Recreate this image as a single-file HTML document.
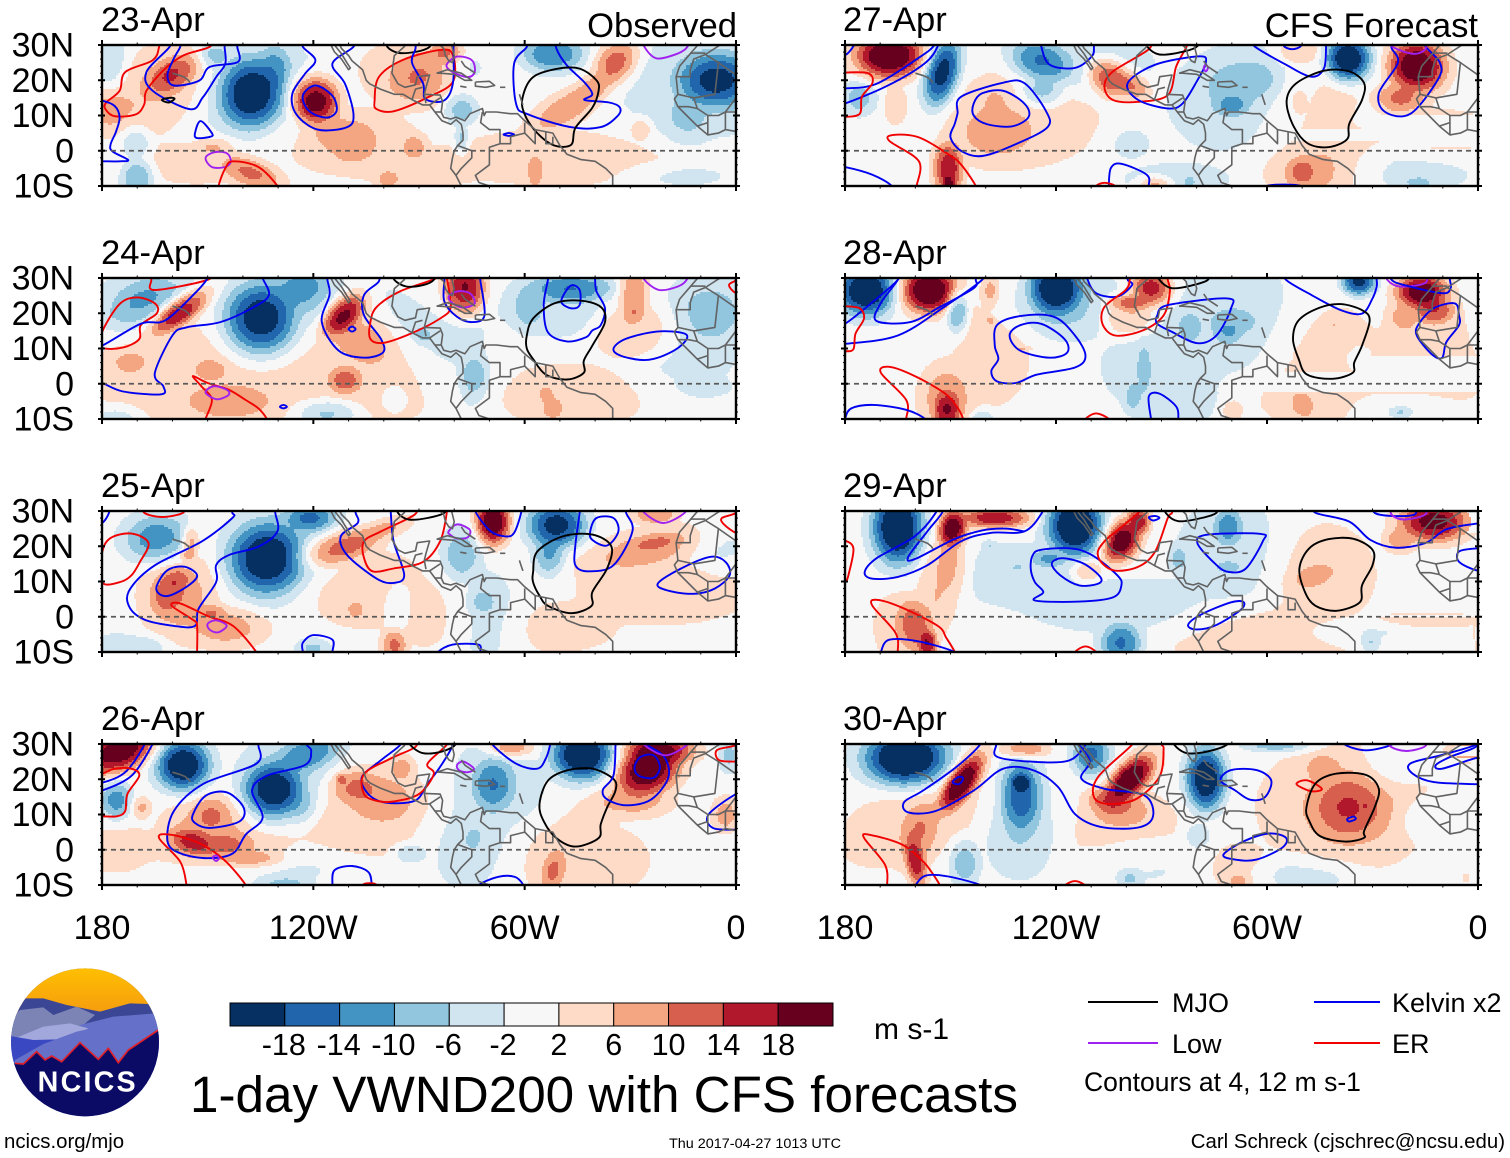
<!DOCTYPE html>
<html>
<head>
<meta charset="utf-8">
<title>1-day VWND200 with CFS forecasts</title>
<style>
html,body{margin:0;padding:0;background:#fff;}
svg{display:block;}
text{font-family:"Liberation Sans",sans-serif;fill:#000;}
</style>
</head>
<body>
<svg id="chart" xmlns="http://www.w3.org/2000/svg" width="1510" height="1158" viewBox="0 0 1510 1158">
<rect width="1510" height="1158" fill="#fff"/>
<g id="panels"></g>
<text x="737" y="37" font-size="34.6" text-anchor="end">Observed</text>
<text x="1478" y="37" font-size="34.6" text-anchor="end">CFS Forecast</text>
<g id="colorbar"></g>
<text x="874" y="1039" font-size="30">m s-1</text>
<text x="190" y="1112" font-size="51" textLength="828" lengthAdjust="spacingAndGlyphs">1-day VWND200 with CFS forecasts</text>
<text x="669" y="1148" font-size="14" textLength="172" lengthAdjust="spacingAndGlyphs">Thu 2017-04-27 1013 UTC</text>
<text x="4" y="1148" font-size="20.4">ncics.org/mjo</text>
<text x="1505" y="1148" font-size="20.4" text-anchor="end">Carl Schreck (cjschrec@ncsu.edu)</text>
<g>
<line x1="1088" y1="1002" x2="1158" y2="1002" stroke="#000" stroke-width="2"/>
<text x="1172" y="1012" font-size="27">MJO</text>
<line x1="1314" y1="1002" x2="1380" y2="1002" stroke="#0000f0" stroke-width="2"/>
<text x="1392" y="1012" font-size="27">Kelvin x2</text>
<line x1="1088" y1="1043" x2="1158" y2="1043" stroke="#a020f0" stroke-width="2"/>
<text x="1172" y="1053" font-size="27">Low</text>
<line x1="1314" y1="1043" x2="1380" y2="1043" stroke="#f00000" stroke-width="2"/>
<text x="1392" y="1053" font-size="27">ER</text>
<text x="1084" y="1091" font-size="26.5">Contours at 4, 12 m s-1</text>
</g>
<g transform="translate(0,960) scale(0.33333)">
<defs>
<clipPath id="logoClip"><circle cx="255" cy="247" r="222"/></clipPath>
<linearGradient id="sunGrad" x1="0" y1="0" x2="0" y2="1"><stop offset="0" stop-color="#ffc000"/><stop offset="1" stop-color="#f59a10"/></linearGradient>
</defs>
<g clip-path="url(#logoClip)">
<rect x="30" y="20" width="450" height="460" fill="#6570c8"/>
<rect x="30" y="20" width="450" height="150" fill="url(#sunGrad)"/>
<polygon points="30,170 70,115 130,115 200,135 300,155 390,130 445,132 490,200 490,260 30,260" fill="#3b4694"/>
<polygon points="30,180 60,150 130,142 160,165 230,140 285,165 250,195 30,240" fill="#7c84b6"/>
<polygon points="240,195 340,170 465,160 490,200 490,280 240,280" fill="#6570c8"/>
<polygon points="45,235 130,200 210,190 265,205 205,235 100,245" fill="#a2a7dc"/>
<polygon points="30,228 100,240 175,238 60,300 30,310" fill="#3a48c2"/>
<polygon points="45,300 130,252 230,215 300,200 470,170 480,210 370,280 45,315" fill="#6570c8"/>
<polygon points="20,310 45,310 70,312 110,275 135,300 155,288 185,305 240,248 295,298 325,265 355,308 385,270 475,210 490,200 490,480 20,480" fill="#0b0b66"/>
<polyline points="45,310 70,312 110,275 135,300 155,288 185,305 240,248 295,298 325,265 355,308 385,270 475,210" fill="none" stroke="#e0202a" stroke-width="5"/>
<text x="113" y="395" font-size="86" font-weight="bold" textLength="294" style="fill:#fff">NCICS</text>
</g>
</g>
</svg>
<script>
const panelDates = ['23-Apr','24-Apr','25-Apr','26-Apr','27-Apr','28-Apr','29-Apr','30-Apr'];
const lonMajorTicks = [180,120,60,0];
const lonMajorLabels = ['180','120W','60W','0'];
const latMajorTicks = [30,20,10,0,-10];
const latMajorLabels = ['30N','20N','10N','0','10S'];
const bandEdges = [-18,-14,-10,-6,-2,2,6,10,14,18];
const bandColors = ['#053061','#2166ac','#4393c3','#92c5de','#d1e5f0','#f7f7f7','#fddbc7','#f4a582','#d6604d','#b2182b','#67001f'];

/* anomaly centres: [lon W, lat, peak m/s, lon radius, lat radius, tilt] */
const blobs23Apr = [[115,3,5,22,9,0],[50,-2,4.5,30,7,0],[150,-3,4.5,18,6,0],[90,-5,4,15,5,0],[90,22,5,16,9,0],[10,18,-5,20,14,0],[165,17,6,16,11,-30],[135,15,-5,16,16,0],
[137.5,16,-23,12,13,0],[131,23,-12,6,8,0],[119.6,14,23,8.5,8.5,0],[116,6,8,8,7,0],[160,21.4,15,10,6,-30],[178,12,8,8,7,0],[178,25,-7,5,8,0],[148,27,-9,5,4,0],
[138,-6,12,11,5,20],[148,1,8,6,3,0],[170,-7.5,-11,5,6,0],[170.4,2,-7,4,5,0],[109,2.6,9,9,8,0],[91.5,1,9,4,4,0],[98.7,-8,8,4,3,0],
[90,21,10,11,8,-20],[82,27.6,12,6,4,0],[52,27.6,-14,10,6,0],[76,23,-5,6,6,0],[78,12,-9,5,5,0],[78,3.6,-8,2,4,0],
[48,12,9,13,5,-30],[40,18,9,10,4,-35],[34,25,13,8,6,-45],[5.5,20,-20,14,10,0],[14,9,-7,8,8,0],[16,-7,-4,12,3,0],[57,-6,8,3,6,0],[27,6,7,3,3,0]];
const blobs24Apr = [[145,2,4.5,35,14,0],[100,0,4,25,10,0],[45,-3,4,22,8,0],[125,25,-9,14,9,0],[165,26,-6,15,5,0],[80,8,-4,10,12,0],[15,12,-4.5,14,14,0],
[135,18,-23,13,13,0],[123.6,27,-12,9,6,-20],[169,23,-11,13,7,-25],[158,20.4,19,12,4.5,-35],[111.6,19.4,21,9,5.5,-45],[107,12,9,12,7,30],
[77,27,19,7,9,0],[88,15,-5,14,4,45],[89,13.7,-8,4,3,30],[74.5,2.2,-11,5,7.5,0],[47,27,-14,14,5,0],[59,22,-9,5,7,0],[50,22,-5,16,8,0],
[29,25,11,5,9,0],[29,20,10,4,3,0],[28,15,8,12,9,0],[7.5,20,-8,12,10,0],[144,-5,9,15,6,0],[149,4,8,6,4,0],[111,1,12,6,5,0],[172,6,8,6,4,0],
[116,-8.4,-9,9,4,0],[176,-10,-6,6,3,0],[52,-7,8,4,4,0],[54,-3,7,3,3,0],[97,-4,-5,3,3,0],[76,-4,-4,5,6,0],[10,-1,-4,8,3,0]];
const blobs25Apr = [[105,8,4,15,10,0],[50,-3,3.5,14,6,0],[125,22,-7,14,10,0],[175,-8,-4,6,3,0],[85,0,4,12,8,0],[72,0,-5,9,12,0],[20,8,4.5,22,9,0],
[158,6,8,11,13,0],[164,22,-13,11,8,0],[155,21,12,3,5,0],[156,17.5,11,3,2,0],[161,7,13,6,8,20],[158.5,11,11,5,4,0],
[145,-3,8,12,6,0],[149,1,10,5,3,0],[133,16.5,-23,14,13,0],[121,28,-15,9,5,0],[113,19.5,15,13,5.5,-15],[102,24,8,10,3,-20],[69,27,23,6,8,0],
[78,17.5,-9,6,8,0],[51,26,-20,10,8,0],[53,18,-11,5,7,0],[72,4,-9,5,5,0],[96,3,-5,3,5,0],[108,2,8,3,3,0],[97,-8,11,4,5,0],[168,-8.5,-6,6,3,0],[120,-9,-7,5,3,0],
[25,19,8,20,6,-12],[23,21,10,10,3,-10],[23,29,10,7,3,0],[5,20,-4,7,6,0],[51,-4,4,5,5,0]];
const blobs26Apr = [[125,22,-7,15,10,0],[150,5,8,13,10,0],[145,0,6,20,6,0],[105,10,5,18,13,0],[75,2,-4.5,12,12,0],[68,18,-6,12,12,0],[175,0,3.5,10,6,0],[130,-5,-3.5,20,4,0],
[175,28,22,13,7,-20],[157,24,-23,9.5,9,0],[176,14,-12,5,6,0],[131,17,-23,11,10,0],[121.6,27,-14,12,6,-20],[124,13,-10,6,6,0],
[102,15,9,14,8,15],[109,18,12,9,6,0],[112,20,15,2,2,0],[64,29,11,7,3,0],[95,23,8,4,4,0],[69,18.5,-14,7,9,0],[43.5,27,-24,11,9,0],
[29,14,8,11,5,0],[25,23,23,12,9,-30],[22,28,20,12,5,0],[149,10,10,7,6,0],[154,2,16,9,5,15],[144,1,11,9,5,0],[138,-2.5,11,11,3,0],[169,12,7,3,3,0],
[74.5,3,-6,6,7,0],[92.5,-1,-7,5,3,0],[128,-10,-8,8,3,0],[75,-10,-6,3,4,0],[45,-3,5,18,10,0],[52,-6,11,4,7,15],[40,10,5,17,5,-40],[3,10,8,4,5,0],[2,27,-7,3,5,0]];
const blobs27Apr = [[130,10,5,20,13,0],[66,14,-5,20,14,0],[48,12,5,14,10,-20],[45,-2,5,16,10,0],[115,25,-6,20,8,0],[85,-8,-4,14,4,0],[12,5,4,15,6,0],
[167.4,27,24,12,8,0],[152.4,22,-21,6,12,15],[176,15,-8,5,5,0],[165.6,13,6,3,5,0],[124,25,-16,11,7,20],[124,17,-11,7,5,0],[105,21,17,8,6,30],[99,19,12,7,4,30],
[137,5,8,13,9,0],[137.4,15,6,5,8,0],[150.6,-5,17,5,9,0],[150.6,-10,22,2.5,4,0],[91.8,-10,10,5,3,0],[70,13,-12,6,4,0],[68,18,-8,12,10,0],[62,20,-8,7,6,0],
[37,26,-24,8,8,0],[17.4,24,23,10,9,10],[22,15,11,8,5,0],[47,-6,8,13,8,0],[50,-6,12,5,5,0],[51,14,7,2.5,4,0],[51,28,7,6,4,0],[20,-6,-4,16,5,0],[17,-9,-8,5,2,0],[82,-9,-6,3,4,0],[99,2,-4,5,4,0]];
const blobs28Apr = [[138,12,5,10,16,0],[68,18,-5,20,14,0],[45,10,5,14,14,0],[18,2,4.5,17,12,0],[48,-3,4.5,14,8,0],[118,22,-7,20,9,0],[15,15,4,10,10,0],[90,5,-4.5,15,12,0],[85,-5,-4,10,6,0],
[174,26.5,-24,10,9,0],[156,26.5,24,10,8,0],[148,20.5,-12,3.5,7,0],[120,27,-24,10,10,0],[93,27,17,7,6,0],[99,23,15,8,3,0],[100,19.5,9,8,6,0],[138.6,18,10,1.5,1.5,0],[138.6,26,9,3,5,0],
[151,-4,9,8,10,0],[151,-7.5,18,5,7,0],[71,14.5,-10,5,4,0],[69,17.5,-8,9,5,0],[82,16,-9,4,5,0],[95,4,-8,2.5,9,0],[98,-3.6,-8,3,5,0],[34,29,-20,6,5,0],
[16,26,22,9,6,0],[12.5,21,14,7,5,0],[21,19,8,5,5,0],[41,16.5,7,2,1,0],[49,9.5,7,3,1.5,-15],[50,-6,8,4,5,-30],[56,-2,6,2,3,0],[20,-7,-4,10,4,0],[22,-8,-9,4,2,0],[141,-9.5,-7,3,2,0],[70,-7.5,5,3,3,0],[130,10,7,3,0.8,0],[34,7,-5,3,3,0]];
const blobs29Apr = [[100,3,-4,25,7,0],[70,18,-5,14,14,0],[130,12,-4,17,8,0],[45,12,5,14,13,0],[60,-5,4.5,22,8,0],[15,-1,4,15,2,0],[165,-3,5,6,9,0],[60,-8,4.5,25,5,0],
[165,25.5,-25,9,13,0],[149.4,25,22,5,7,15],[137.4,28,17,12,3.5,0],[150,15,8,5,10,0],[153,9,7,6,14,10],[160.2,-2.6,13,6,9,-10],[156.6,-7.5,18,3.5,5,0],
[114.6,26,-25,10,11,0],[122,16.5,-11,6,3,0],[101.4,21.5,22,6,8,35],[96.6,27,17,4,5,0],[111,13,8,4,3,0],[71,25.5,-13,5,6,0],[85,16.5,-8,3,4,0],[71,14,-9,4,2,0],
[101.4,-7.5,-15,7,7,0],[30.6,-7.5,-8,3,3,0],[35,-5,-4,12,3,0],[47.4,11.5,8,8,4,-15],[12.6,27,20,12,7,0],[22,22,9,5,4,0],[0,-5,8,1,8,0],[139,20,-6,2,1.5,0],[131,14,-7,2,1,0]];
const blobs30Apr = [[95,-4,-4,12,6,0],[38,12,5,22,17,0],[50,-7,-4.5,12,4,0],[68,-5,4,8,6,0],[160,8,5,20,10,-20],[130,5,-6,10,12,0],[100,5,4,15,10,0],
[162.6,26,-26,15,10,0],[147,19,24,5,12,35],[129,28.4,11,7,3,0],[130,15,-17,7.5,13,0],[130,19,-22,4,4,0],[110,27,-15,6,7,0],[101.4,11,9,10,6,0],[104,14,14,8,5,0],[99,20,23,5.5,11,45],
[77.4,20,-23,7,11,0],[57,29.5,-9,10,2,0],[159,5,10,6,11,15],[160,-3,17,3.5,9,-10],[146,-3.5,-9,4.5,7,0],[99,-8,-8,4,3,0],[36,12,9,17,13,0],[37,12,13,12,11,0],[32,12.3,16,1,1,0],
[44,23,9,6,5,0],[15,9,-4,6,4,0],[47,-8.5,-7,8,2.5,0],[68,-9,8,4,3,0],[1,-8,8,3,2,0],[3,28,10,6,3,0],[24.5,24,-4,6,5,0],[80,4,-5,4,4,0]];

/* contours: [series, closed, [[lon W, lat], ...]] */
const contours23Apr = [
['e',0,[[163.8,29.5],[165.6,25.7],[173.4,22.3],[175,17],[178.8,13.7],[179,11.8],[176.4,9.8],[170.4,10.3],[168,13.2],[167.4,17],[162.6,22.8],[157,27],[149.4,29.5]]],
['k',0,[[160.8,29.5],[167.4,22.3],[165.6,17],[155,11.8],[151.4,15.1],[147.6,20.9],[145,24.7],[145.2,29.5]]],
['k',0,[[157.8,29.5],[159.6,26.2],[161.4,21.4],[159.6,18.5],[152.4,19.9],[149.4,23.8],[141.4,25.2],[141.6,29.5]]],
['m',1,[[163,14.4],[161,15],[159.4,14.8],[161,13.7]]],
['k',0,[[180,14.2],[176.4,12.7],[175,9.4],[176,5.5],[177.6,1.7],[177,-0.2],[172.6,-2.6],[175,-3],[180,-3]]],
['k',1,[[153.6,5],[152,8.4],[148.8,5],[149.2,4],[153,3.6]]],
['l',1,[[150.6,-2],[148,-0.4],[144.6,-0.7],[143.4,-3],[145,-4.6],[148.8,-4.6]]],
['e',0,[[147,-10.2],[145,-5],[142.8,-3],[135.6,-4.6],[130,-10.2]]],
['e',1,[[102.6,14.2],[101.4,20.9],[94.8,25.7],[84,28.6],[80.4,27.2],[80.4,19.5],[87.6,15.1],[97.2,11.2],[102,11.8]]],
['k',0,[[123,29.5],[119.4,25.7],[122.4,21.8],[126,16],[124.8,10.3],[118.8,6],[110.4,6.7],[108.6,10.3],[111,19],[114.6,24.7],[108.6,29.5]]],
['k',1,[[123,15.6],[119.4,18.5],[114.6,15.6],[113.4,11.3],[116.4,9.4],[121.2,11.3]]],
['m',0,[[99,29.5],[96,27.8],[91.2,28],[87,29.5]]],
['k',0,[[91,29],[92,25],[88.8,19],[88.2,14.7],[83,14.2],[80.4,19],[80.2,29.5]]],
['l',1,[[82.2,24.3],[79.2,26.7],[75,25.7],[74.2,22.3],[76.2,20.9],[80.4,22.3]]],
['k',0,[[59.4,29.5],[63,24.7],[62.4,13.2],[59,10.3],[47,6.7],[38.4,6.7],[33.6,9.9],[33,12.3],[36,13.7],[43,14.4],[40.8,16],[43,19.4],[48,24.2],[51,29]]],
['m',1,[[60.6,15.1],[57.6,20.9],[50.4,23.3],[44.4,23.3],[39.6,20],[39,17],[40.8,12.2],[45.6,6.5],[46.8,1.7],[51.6,1.5],[56.4,5],[60,10.3]]],
['k',1,[[66,4.6],[64.5,5],[63,4.6],[64.5,4.2]]],
['l',0,[[26,29.5],[22.5,26.2],[16.5,27.6],[13.8,29.5]]]];
const contours24Apr = [
['e',1,[[180,14.6],[175,22.6],[170,24.5],[165,22.8],[164.4,20],[169,16.6],[169.4,12.7],[174,10.3],[180,10.3]]],
['e',0,[[166,29.5],[165,26.6],[150,29.5]]],
['k',0,[[180,10.8],[169,17],[162,18],[153.6,25.7],[150,30]]],
['k',0,[[180,0.2],[174,-2.2],[163.2,-3],[162.6,-0.7],[165,3],[160,13.7],[156,16],[146.4,17.5],[136.8,21.8],[132.6,25.2],[134.4,30]]],
['k',1,[[129.5,-6.5],[128.5,-6],[127.5,-6.5],[128.5,-7]]],
['e',0,[[150.6,-10],[148.8,-4.5],[151.8,-0.7],[154.2,2.2],[150,0.2],[144,-1.7],[139.2,-4.6],[135.6,-7],[133.2,-10]]],
['l',1,[[150.6,-2.2],[148.2,-0.7],[144.6,-1.7],[144,-3.1],[147,-4.4],[149.4,-3.6]]],
['k',0,[[116,29.5],[115.4,25.2],[117.6,17.5],[112.8,9.4],[105.6,7.4],[100.2,8.9],[100.8,12.7],[105.6,19.4],[105.6,25.2],[101.4,29]]],
['k',1,[[110,15.5],[109,16.2],[108,15.5],[109,14.8]]],
['e',0,[[85,30],[95.4,26.2],[102,21.8],[103.8,17.5],[103.8,12.7],[100.2,11.6],[92.4,14.2],[84,18.5],[81,21.8],[82,29.5]]],
['m',0,[[97,29.5],[93.6,27.6],[88.8,28],[85.8,29.5]]],
['k',0,[[82.8,29.5],[82.8,23.3],[79.2,19],[75,17.5],[71.4,19.4],[72.6,29.5]]],
['l',1,[[81.6,24.7],[79.2,26.2],[75.6,25.7],[74.2,22.8],[77.4,21.6],[80.4,22.8]]],
['k',0,[[53.4,29.5],[54.6,22.3],[53.4,14.6],[48,12],[42.6,13.2],[40.8,15.1],[38.4,16.6],[37.2,21.4],[39.6,26.2],[40,29.5]]],
['k',1,[[49.2,24.7],[46.8,27.9],[44.4,26.6],[44.4,22.3],[46.8,21.4],[49.4,22.8]]],
['m',1,[[59.4,13.7],[57.6,18.5],[51.6,22.8],[44.4,23.6],[38.4,21.8],[37.2,17.5],[40.8,10.8],[43.2,6.5],[43.2,3.1],[48,1.2],[54,2.6],[57.6,7],[59.4,10]]],
['k',1,[[34.8,9.8],[31.4,12.7],[22.5,14.8],[15.2,14.4],[14,12.7],[17.6,9.4],[24.8,6.8],[32,7.7]]],
['l',0,[[26,29.5],[21.8,26.6],[16.5,27.6],[14,29.5]]],
['e',0,[[0,29.5],[2,28],[0,25.7]]]];
const contours25Apr = [
['e',1,[[180,18],[177.6,22.3],[171.6,23.6],[166.8,20.9],[169.2,15.6],[171.6,11.8],[175,9.8],[180,9.8]]],
['e',0,[[168,29.5],[163,28.3],[157,29.5]]],
['k',0,[[180,26.6],[178,29.5]]],
['k',0,[[143,29.5],[143,28],[151.6,21.4],[165,14.6],[172,7.9],[172.4,3.1],[168.2,-0.7],[159.6,-2.6],[153.6,-2.6],[152.6,2.2],[147.6,9.8],[147.6,14.6],[144,17.5],[135.6,19.9],[130.2,24.2],[130.8,29.5]]],
['k',1,[[164.4,8.9],[161.4,13.2],[156.6,14.2],[153,11.8],[155.4,8.9],[160.8,6],[163.8,6.5]]],
['e',0,[[153,-10],[153,-2.6],[154,-1],[160.2,3.1],[157.8,3.8],[150,0.2],[142.8,-2.6],[136.2,-10]]],
['l',1,[[150,-2],[147.6,-1],[144.6,-2.5],[147,-4.4],[149.4,-3.7]]],
['k',0,[[108,29.5],[107.4,26.6],[112.2,22.8],[110.4,17.5],[102,10.8],[97.2,9.6],[94.2,11.8],[97.2,21.4],[98,29.5]]],
['e',0,[[91.2,29],[100.8,24.2],[105.6,21.4],[105.6,16.6],[103.2,12.9],[97.2,13.7],[88.8,15.6],[84,21.4],[82.2,29]]],
['m',0,[[96,29.5],[93,27.6],[87.6,28],[82.8,29.5]]],
['l',1,[[81.6,24.2],[79.2,26.2],[75.6,24.7],[76.2,22.5],[79.2,22.2],[81.2,23.3]]],
['k',0,[[73.8,29.5],[69.6,24.2],[65.4,22.8],[63,23.8],[61,29.5]]],
['k',0,[[44.4,29.5],[45.6,20.4],[45.6,14.6],[42,12.9],[34.8,14.6],[29.4,24.2],[31.2,29.5]]],
['k',1,[[41.4,24.2],[39.6,28],[34.8,28],[33.4,24.2],[36.6,20.2],[40.8,21.8]]],
['m',1,[[57.6,12.7],[56.4,18.5],[49.2,22.8],[40.8,23.3],[35.4,20],[36.6,13.7],[40.8,7],[41,3.1],[46.8,1],[53.4,3.1],[55.8,6],[57.6,9.8]]],
['k',1,[[22.2,9.4],[15.6,13.7],[7.2,17],[3,15.6],[1.8,11.8],[6,8],[12,6.5],[19.2,7.4]]],
['l',0,[[26,29.5],[20.6,26.6],[14.6,29.5]]],
['e',0,[[0,29.5],[4,28],[3.4,26.2],[0,23.8]]],
['k',0,[[123,-10],[123,-7.4],[120,-5.2],[114.6,-6.5],[114.6,-10]]],
['k',0,[[84.6,-10],[80.4,-7.9],[73.2,-7.9],[72.6,-10]]]];
const contours26Apr = [
['k',0,[[180,19],[173.4,22],[168,29.7]]],
['k',0,[[180,16.8],[171.6,21],[165.8,29.7]]],
['e',0,[[180,21.6],[176.4,23],[171.6,23],[169.4,21],[172.8,15.8],[173.4,11],[175.8,9.5],[180,9.5]]],
['k',0,[[135.6,29.7],[136.2,24.4],[151.2,18.7],[159.6,11],[161.4,2.4],[157.8,-1],[150,-2.4],[142.8,-1],[139.2,4.3],[134.4,9.1],[137.4,16.8],[133.2,21],[122.4,24],[120.6,28],[121.8,29.7]]],
['k',1,[[154.2,10],[150.6,15.3],[144.6,16.3],[139.8,12],[141,8],[149.4,6.2],[153.6,7.6]]],
['e',0,[[156,-10],[157.8,-3.4],[163.8,3.3],[160.8,4.3],[152.4,1.9],[145.2,-3],[139.2,-10]]],
['l',1,[[148.6,-2.2],[147.6,-1.6],[146.8,-2.4],[147.6,-3.2]]],
['k',0,[[114.6,-10],[114,-5.8],[109,-4.6],[104.4,-6.3],[103.4,-10]]],
['e',0,[[106,-10],[104,-9.5],[102,-10]]],
['k',0,[[73,-10],[67.6,-7.7],[62.8,-7.7],[60.4,-10]]],
['k',0,[[95.4,29.7],[100.8,25.4],[106.2,20.6],[104.4,15.8],[99.6,13.4],[91.2,13.9],[87.6,18.7],[84,23.5],[80.4,29.7]]],
['e',0,[[91,29.2],[98,25.9],[105.6,21.5],[105.6,15.8],[102,13.9],[97.2,13.7],[90,15.8],[85.8,21.5],[87.6,24.4],[82.2,29.7]]],
['m',0,[[92.4,29.7],[88.8,27.4],[83.4,27.9],[79.8,29.7]]],
['l',1,[[79.2,24],[77.4,25],[74.4,23],[76.2,22],[78.6,22.5]]],
['k',0,[[69,29.7],[62.4,24.4],[56.4,23],[54,25.9],[52.8,29.7]]],
['m',1,[[55.8,13],[53.4,19.6],[48,22.5],[40.8,23],[34.8,20.1],[34.2,16.8],[36.6,12],[38.4,7.2],[39,3.3],[45.6,0.9],[51,3.3],[54.6,8.1]]],
['k',0,[[34.2,29.7],[34.8,21],[37.8,17],[36.6,14.3],[31.2,12.6],[24,14.3],[19.2,20.6],[20.4,26.4],[25,29.7]]],
['k',1,[[28.8,23.5],[27,26.4],[23.4,26.8],[21.6,23.5],[23.4,20.4],[27.6,21]]],
['l',0,[[26,29.7],[20,26.8],[14,29.7]]],
['e',0,[[0,29.7],[5.4,28.3],[4.8,25.4],[0,25]]],
['k',0,[[0,15.8],[7.8,10],[6.6,6.2],[0,5.7]]]];
const contours27Apr = [
['k',0,[[180,17.7],[171,19],[159,26.4],[154.8,29.7]]],
['k',0,[[180,13.4],[167.4,18.7],[157.2,24.9],[153.6,29.7]]],
['k',0,[[180,27.3],[177.6,29.7]]],
['e',0,[[180,22.2],[173.4,22],[172.2,19.2],[175.2,15.3],[175.8,10.5],[180,9.6]]],
['k',1,[[148,10.5],[147,15.3],[135,19.3],[129,19.2],[123,11.5],[122.4,6.7],[131.4,1.9],[141,-1.5],[147,0],[150,3.8],[148.8,7.6]]],
['k',1,[[143.4,13.4],[141,16.3],[135,17],[129,13.4],[127.8,9.6],[132.6,6.9],[139.8,7.6],[143.4,10]]],
['e',0,[[159.6,-10],[159,-3],[167.4,2.8],[166.2,4.5],[159,3.8],[150.6,-1],[147,-3.9],[142.8,-10]]],
['k',0,[[180,-4.6],[172.2,-6.8],[166.8,-9.9]]],
['k',0,[[124.2,29.7],[121.8,24.4],[114.6,23.5],[109.8,26.8],[109.2,29.7]]],
['e',0,[[93.6,28.8],[103.8,22.5],[106.2,18.2],[103.8,14.4],[96.6,13.9],[88.2,15.8],[85.8,24],[82.8,29.7]]],
['k',1,[[79.2,26.8],[91.8,24.4],[99.6,19.2],[96.6,14.4],[88.2,12],[84,13.4],[79.8,20],[77.4,24.9]]],
['m',0,[[94.2,29.7],[90.6,27.3],[83.4,28.2],[79.8,29.7]]],
['l',1,[[78,23.5],[77.4,24.5],[76.8,23.5],[77.4,22.5]]],
['k',0,[[63.6,29.7],[54.6,24.4],[47.4,21],[43.8,23.4],[43.2,29.7]]],
['k',0,[[55.2,29.7],[52.8,28.8],[50.4,29.7]]],
['m',1,[[54.4,14.4],[51.6,19.2],[43.8,22.7],[36.6,22.5],[32.4,19.2],[33,14.4],[36.6,7.7],[37.2,3.3],[42.6,1],[48.6,2.2],[52.8,7.7]]],
['k',0,[[24.6,29.2],[22.8,24.9],[28.2,16.3],[26.4,11],[19.2,10.5],[11.4,20.2],[10.8,24.9],[15,29.7]]],
['l',0,[[24.6,29.7],[18.6,27.5],[15,28.8]]],
['k',0,[[105,-10],[104.4,-4.9],[101.4,-3.7],[94.2,-6.8],[93.6,-9.9]]],
['e',0,[[108.6,-10],[106.2,-9.1],[103.2,-10]]],
['k',0,[[60,-10],[55.2,-9.6],[50.4,-10]]]];
const contours28Apr = [
['k',0,[[180,17],[172,23.3],[165,29.5]]],
['k',0,[[180,11.3],[165,13.7],[151.8,21.8],[141,29.5]]],
['k',0,[[165,29.5],[170,22.6],[171,17.8],[161.4,17.5],[153,21.8],[143.4,27.1],[142.8,29.5]]],
['e',0,[[180,22],[175.8,21.4],[174.6,18.5],[177,14.2],[177.6,9.8],[180,9.2]]],
['k',1,[[137.4,10.8],[136.8,16.6],[130.2,19.2],[120.6,19],[114.6,13.7],[111.6,7.9],[114.6,4.6],[125.4,2.6],[131.4,0.2],[136.8,0.7],[138.4,3.6],[136.4,7]]],
['k',1,[[133.2,13.7],[130.2,16.6],[124.2,17],[117.6,12.7],[116.8,8.9],[121.8,7.4],[130.2,9.4]]],
['e',0,[[162.6,-10],[162.6,-4.6],[169.8,3.1],[167.4,4.8],[160.2,2.2],[151.8,-2.6],[148.2,-6.5],[146.4,-10]]],
['k',0,[[180,-10],[178.2,-7],[172,-6],[162.6,-7.4],[157.2,-10]]],
['k',0,[[111,29.5],[108.6,25.7],[102.6,24.7],[98.4,28],[99.6,29.5]]],
['e',0,[[88.2,29.5],[87.6,26.2],[89.4,19.4],[95.4,15.1],[103.2,13.7],[106.8,17],[106.2,21.8],[100.2,26.6],[99,29.5]]],
['m',0,[[90.6,29.5],[87,27.1],[81,28],[76.8,29.5]]],
['k',1,[[91.2,19.4],[88.2,22.3],[71.4,24.2],[70.2,21.4],[74.4,13.7],[79.8,11.5],[87,14.7],[91.2,17]]],
['k',0,[[54.6,29.5],[47.4,25.2],[39,20.9],[33,19.9],[30,24.2],[28.8,27.6],[28.8,29.5]]],
['m',1,[[52.6,12.7],[51,18],[45,21.6],[39,22.6],[33,20.9],[30.8,18],[33,10.8],[35.2,6],[35.6,3.1],[41.4,1.4],[48.6,2.6],[51,7]]],
['l',0,[[25.8,29.5],[22.2,27.6],[15,28.6]]],
['k',0,[[24.6,29.5],[21,28],[10.2,25.7],[7.8,27.1],[8,29.5]]],
['k',1,[[16.8,17],[12.6,21.4],[6.6,22.8],[5.4,19.4],[5.4,16.6],[9,11.8],[10.2,7.4],[13.2,8.4],[17.4,13.7]]],
['k',0,[[93,-10],[93.6,-3.6],[90.6,-2.8],[85.8,-6.5],[85.2,-10]]],
['e',0,[[111.6,-10],[108.6,-8.4],[105,-10]]]];
const contours29Apr = [
['k',0,[[154.2,29.5],[160.2,22.8],[171,16.6],[174.4,12.7],[172.2,10.8],[165,11.3],[156.6,14.6],[147,21.4],[138.6,23.8],[129,24.2],[124,29.5]]],
['k',0,[[152.4,29.5],[156.6,24.2],[162,17],[160,16.4],[149,22],[141,24.5],[134.4,25],[129,24.2]]],
['e',0,[[180,21.6],[177.6,19.4],[178.8,12.7],[180,9.8]]],
['k',1,[[127.2,13.7],[126.6,17.5],[124.2,19],[115.8,19.4],[109.8,17.5],[102.6,11.8],[101.4,8.9],[103.8,5.5],[113.4,4.3],[126,4.6],[123.6,7],[126,9.8]]],
['k',1,[[121.2,15.1],[118.2,16.6],[112.2,15.1],[107.4,11.3],[108,9.4],[113.4,8.9],[118.8,11.8]]],
['e',0,[[165,-10],[165.6,-4.6],[172.2,3.1],[171,4.8],[163.8,2.6],[153.6,-2.6],[151.2,-6],[148.8,-10]]],
['k',0,[[169.8,-10],[167.4,-6.5],[159,-7],[148.8,-10]]],
['e',0,[[96.6,29.5],[106.2,21.4],[108,17],[103.8,13.2],[96.6,14.2],[91.8,18.5],[88.2,28],[87,29.5]]],
['k',1,[[93.6,28.2],[91.8,28.6],[90.6,28],[92.4,27.3]]],
['m',0,[[88.8,29.5],[85.2,27.1],[78.6,28],[74.4,29.5]]],
['k',1,[[79.8,20.9],[76.8,23.3],[61.8,23.5],[61.2,21.4],[66,13.7],[70.8,12.7],[74.4,14.7]]],
['m',1,[[50.8,13.7],[48,19.4],[42.6,22],[35.4,22.1],[30,19],[30,14.6],[33,8.9],[33.6,4.1],[40.2,1.7],[46.2,3.1],[49.2,7]]],
['k',0,[[46.2,29.5],[36.6,27],[30.6,21.8],[23.4,19.6],[15,20.9],[9,24.8],[0.6,26.4]]],
['k',0,[[29.4,29.5],[24.6,28.6],[18,29]]],
['l',0,[[24.6,29],[21,27.6],[15,29]]],
['k',0,[[0.6,19.4],[5.4,18.5],[5.4,15.6],[0.6,13.2]]],
['k',1,[[82.4,-2.2],[78.6,0.7],[70.2,4.1],[66.6,4.1],[67.8,1.7],[75,-2.6],[80.4,-3.6]]],
['e',0,[[114.6,-10],[111.6,-8.4],[108.6,-10]]]];
const contours30Apr = [
['k',0,[[141.6,29.8],[148.2,23.6],[157.8,16.8],[163.2,13.5],[162,10.6],[154.2,11],[143.4,16.8],[135,23],[126.6,22.6],[119.4,17.8],[114.6,10.1],[107.4,6.5],[96.6,6.3],[92.4,9.6],[94.8,15.4],[106.2,17.3],[112.8,20.2],[110.4,25],[113.4,29.8]]],
['k',0,[[137,29.8],[136.8,26.4],[127.2,25],[116.4,25.3],[111.6,29.8]]],
['k',1,[[149.4,19.2],[147.6,20.7],[146.4,20.2],[147.6,18.6]]],
['e',0,[[168,-10.2],[168.6,-4.3],[174.6,3.4],[172.8,4.2],[163.8,1.5],[157.8,-3.3],[154.8,-7.2],[153,-10.2]]],
['k',0,[[160,-10.2],[157,-7.3],[150.6,-7.6],[141,-10.2]]],
['e',0,[[98.4,29.8],[108,20.7],[109.2,14.9],[105,13],[97.2,14.4],[90.6,20.7],[89.4,28.4],[90,29.8]]],
['m',0,[[86.4,29.8],[82.8,27.4],[76.8,27.9],[71.4,29.8]]],
['k',1,[[73.2,19.7],[70.2,22.6],[63,22.6],[58.8,19.7],[60.6,14.9],[64.8,14.2],[69,16.8]]],
['e',1,[[51.6,18.6],[48.6,19.7],[44.4,17.3],[47.4,16.6]]],
['m',1,[[48.8,12],[46.2,18.8],[40.2,21.6],[31.8,21.2],[28.2,17.3],[29.4,12],[32.4,5.3],[32.4,3.4],[37.8,2.3],[45,3.9],[48,8.2]]],
['k',1,[[37.2,8.7],[35.4,9.4],[34.8,8.7],[36.6,8]]],
['k',1,[[72.4,-1.4],[66.6,2.4],[59.4,4.6],[54.6,3.4],[55.8,0.5],[63,-2.8],[69,-2.8]]],
['k',0,[[37.8,29.8],[31.8,28.2],[24.6,29.8]]],
['l',0,[[25,29.4],[20.4,28],[15,29.4]]],
['k',0,[[0.6,29.8],[10.2,26.9],[19.2,24.5],[18.6,21.6],[12.6,19.2],[0.6,18.6]]],
['k',0,[[0.6,26],[10.2,23],[12,24],[7.8,26.4],[0.6,29.2]]],
['e',0,[[117.6,-10.2],[114.6,-8.9],[111.6,-10.2]]]];

/* coastlines and borders: [[lon W, lat], ...] */
const coastlines = [
[[115.5,31],[115,30],[114,28],[112,26],[110,23],[109.5,23.5],[110.5,25],[112,27.5],[114,30],[114.7,31]],
[[113,31],[112.5,30],[112,29],[110,27],[109,25.5],[106,23],[105,20],[104,19],[101,17.5],[97,16],[94.5,16],[92,14.5],[89,13],[87,13],[85.5,11],[83.5,8.5],[81,7.5],[79.5,8.8],[78,7.5],[77.5,5],[77.5,3],[79,1.5],[80,0],[80.5,-2],[81,-5],[79.5,-7],[78,-10],[77,-11]],
[[81,31],[80,27],[80.5,25],[81.5,25.5],[82.5,27],[83,29],[84,30],[85,30]],
[[94,29.7],[97,27],[97.7,22],[96,19],[94,18],[91,18.7],[90.5,21],[87,21.5],[88,18],[88.5,16],[84,15.8],[83.3,14],[83.7,11],[83,9.5],[81,9],[79.5,9.5],[77,8.5],[75.5,10.5],[72,12],[71.5,10],[71,11],[68,11],[64,10.5],[62,10.5],[60,8.5],[57,6],[52,5],[50,1.5],[48,-1],[44,-2.5],[40,-3],[37,-5],[35,-7],[35,-10],[35,-11]],
[[85,22],[82,23],[78,22],[75,20],[77,20],[80,21.7],[84,22],[85,22]],
[[74,19.5],[70,19.7],[68.5,18.5],[71,18],[74,18.3],[74,19.5]],
[[67,18],[65.5,18]],[[78.3,18.3],[76.5,18]],[[78,25.5],[77,24],[75.5,23],[74,22]],[[61.5,16],[61,14.5],[60.5,13]],
[[160,22],[158,21.4],[156.5,20.8],[155.5,20],[155,19.3]],
[[72,11],[72.5,8],[70,6],[67,6],[67,2],[70,1],[70,-4],[74,-7],[73,-9],[70,-10]],
[[79,1.5],[75,0],[75,-2],[78,-5],[79.5,-7]],
[[60,8],[60,5],[57,2],[57,6]],[[54,5.5],[54,2],[52,2],[52,4]],[[60,5],[64,4],[64,2],[67,2]],
[[92,14.5],[91,17.5],[89,18]],[[88,13.5],[88.5,16]],[[87,13],[84,15]],[[85.5,11],[83.7,11]],
[[10,31],[13,27.5],[16,24],[17,21],[16.5,16],[17.5,14.7],[16.5,12.5],[15,11],[13,9],[11,7],[8,4.5],[5,5],[3,6],[0,5.5],[-1,5.5]],
[[17,21],[13,21],[13,23],[12,26],[8.7,27.3],[5,25],[6,16],[12,15],[16.5,16]],
[[13,27.7],[8.7,27.7]],[[8.7,27.3],[3,31]],[[5,25],[0,21.5],[-1,21]],
[[12,15],[11,12],[8,10],[5,10],[3,11],[0,15],[-1,15]],[[16.5,12.5],[13.5,12.5],[11,12]],[[8,10],[8,8],[11,7]],[[8,8],[8,4.5]],[[3,6],[3,11]],[[0,5.5],[0,11],[3,11]]];

const svgNS = 'http://www.w3.org/2000/svg';
const panelXs = [[102,736],[845,1478]];
const panelYs = [45,278,511,744];
const panelH = 141;
const allBlobs = [blobs23Apr,blobs24Apr,blobs25Apr,blobs26Apr,blobs27Apr,blobs28Apr,blobs29Apr,blobs30Apr];
const allContours = [contours23Apr,contours24Apr,contours25Apr,contours26Apr,contours27Apr,contours28Apr,contours29Apr,contours30Apr];
const seriesColor = {m:'#000000',k:'#0000f0',l:'#a020f0',e:'#f00000'};
const seriesName = {m:'mjo-contour',k:'kelvin-contour',l:'low-contour',e:'er-contour'};

function mk(tag, attrs, parent){
  const el = document.createElementNS(svgNS, tag);
  for (const k in attrs) el.setAttribute(k, attrs[k]);
  if (parent) parent.appendChild(el);
  return el;
}
function smoothPath(pts, closed){
  const n = pts.length;
  const at = i => closed ? pts[(i+n)%n] : pts[Math.max(0,Math.min(n-1,i))];
  let d = 'M'+pts[0][0].toFixed(1)+' '+pts[0][1].toFixed(1);
  const last = closed ? n : n-1;
  for (let i=0;i<last;i++){
    const p0=at(i-1),p1=at(i),p2=at(i+1),p3=at(i+2);
    d += 'C'+(p1[0]+(p2[0]-p0[0])/6).toFixed(1)+' '+(p1[1]+(p2[1]-p0[1])/6).toFixed(1)+' '+
         (p2[0]-(p3[0]-p1[0])/6).toFixed(1)+' '+(p2[1]-(p3[1]-p1[1])/6).toFixed(1)+' '+
         p2[0].toFixed(1)+' '+p2[1].toFixed(1);
  }
  return d + (closed ? 'Z' : '');
}
function extendEnd(p){
  if (p[1] >= 27) return [p[0], 32];
  if (p[1] <= -8) return [p[0], -12];
  if (p[0] >= 178) return [183, p[1]];
  if (p[0] <= 2) return [-3, p[1]];
  return null;
}
/* wind value at a map position, combining the anomaly centres of one panel.
   dx/dy follow screen directions: east is +x, south is +y. Negative tilt leans SW-NE. */
function fieldAt(blobs, lon, lat){
  let pos = 0, neg = 0;
  for (const b of blobs) {
    const a = b[5] * Math.PI / 180, c = Math.cos(a), s = Math.sin(a);
    const dx = b[0] - lon, dy = b[1] - lat;
    const u = (dx * c + dy * s) / (b[3] * 1.15);
    const w = (-dx * s + dy * c) / (b[4] * 1.15);
    const r2 = u * u + w * w;
    if (r2 > 6) continue;
    const P = Math.abs(b[2]);
    const v = P * Math.exp(-Math.log(P / 2) * Math.pow(r2, 1.25));
    if (b[2] > 0) pos += v * v * v; else neg += v * v * v;
  }
  return Math.cbrt(pos) - Math.cbrt(neg);
}
function bandIndex(v){
  let i = 0;
  while (i < bandEdges.length && v >= bandEdges[i]) i++;
  return i;
}

const panelsRoot = document.getElementById('panels');
const cell = 2;

panelDates.forEach((date, idx) => {
  const col = idx < 4 ? 0 : 1;
  const row = idx % 4;
  const x0 = panelXs[col][0], x1 = panelXs[col][1];
  const y0 = panelYs[row], y1 = y0 + panelH;
  const X = lon => x0 + (180 - lon) / 180 * (x1 - x0);
  const Y = lat => y0 + (30 - lat) / 40 * (y1 - y0);
  const LON = x => 180 - (x - x0) / (x1 - x0) * 180;
  const LAT = y => 30 - (y - y0) / (y1 - y0) * 40;

  const g = mk('g', {}, panelsRoot);
  
  

  const clip = mk('clipPath', {id:'clip' + idx}, g);
  mk('rect', {x:x0, y:y0, width:x1-x0, height:y1-y0}, clip);

  const bg = mk('rect', {x:x0, y:y0, width:x1-x0, height:y1-y0, fill:bandColors[5]}, g);
  
  

  const field = mk('g', {'clip-path':'url(#clip'+idx+')', 'shape-rendering':'crispEdges'}, g);
  
  
  const bandPaths = bandColors.map(() => []);
  for (let y = y0; y < y1; y += cell) {
    let runStart = x0, runBand = -1;
    for (let x = x0; x <= x1; x += cell) {
      const b = x >= x1 ? -2 : bandIndex(fieldAt(allBlobs[idx], LON(x + 1), LAT(y + 1)));
      if (b !== runBand) {
        if (runBand >= 0) bandPaths[runBand].push('M'+runStart+' '+y+'h'+(x-runStart)+'v'+cell+'h'+(runStart-x)+'z');
        runStart = x;
        runBand = b;
      }
    }
  }
  bandPaths.forEach((parts, i) => {
    if (i === 5 || !parts.length) return;
    const p = mk('path', {d:parts.join(''), fill:bandColors[i]}, field);
    
    
  });

  const lines = mk('g', {'clip-path':'url(#clip'+idx+')', fill:'none'}, g);
  
  
  allContours[idx].forEach(c => {
    let pts = c[2];
    if (!c[1]) {
      const a = extendEnd(pts[0]), z = extendEnd(pts[pts.length-1]);
      pts = (a ? [a] : []).concat(pts, z ? [z] : []);
    }
    const pix = pts.map(p => [X(p[0]), Y(p[1])]);
    const path = mk('path', {d:smoothPath(pix, !!c[1]), stroke:seriesColor[c[0]], 'stroke-width':1.9}, lines);
    
    
  });

  const coast = mk('g', {'clip-path':'url(#clip'+idx+')', fill:'none', stroke:'#626262', 'stroke-width':1.6, 'stroke-linejoin':'round'}, g);
  
  
  coastlines.forEach(line => {
    const pl = mk('polyline', {points:line.map(p => X(p[0]).toFixed(1)+','+Y(p[1]).toFixed(1)).join(' ')}, coast);
    
    
  });

  const eq = mk('line', {x1:x0, y1:Y(0), x2:x1, y2:Y(0), stroke:'#5a5a5a', 'stroke-width':1.8, 'stroke-dasharray':'5 4'}, g);
  
  

  const frame = mk('rect', {x:x0, y:y0, width:x1-x0, height:y1-y0, fill:'none', stroke:'#000', 'stroke-width':2.4}, g);
  
  

  const ticks = mk('g', {stroke:'#000'}, g);
  
  
  for (let lon = 180; lon >= 0; lon -= 10) {
    const major = lonMajorTicks.includes(lon);
    const L = major ? 5 : 2.5, w = major ? 2 : 1;
    mk('line', {x1:X(lon), y1:y0, x2:X(lon), y2:y0-L, 'stroke-width':w}, ticks);
    mk('line', {x1:X(lon), y1:y1, x2:X(lon), y2:y1+L, 'stroke-width':w}, ticks);
  }
  for (let lat = 30; lat >= -10; lat -= 2) {
    const major = latMajorTicks.includes(lat);
    const L = major ? 4 : 2, w = major ? 2 : 1;
    mk('line', {x1:x0-L, y1:Y(lat), x2:x0+(major?3:0), y2:Y(lat), 'stroke-width':w}, ticks);
    mk('line', {x1:x1-(major?3:0), y1:Y(lat), x2:x1+L, y2:Y(lat), 'stroke-width':w}, ticks);
  }

  const title = mk('text', {x:x0-(col?2:1), y:y0-14, 'font-size':34.6}, g);
  title.textContent = date;
  
  

  if (col === 0) {
    latMajorTicks.forEach((lat, i) => {
      const t = mk('text', {x:x0-28, y:Y(lat)+11.5, 'font-size':34, 'text-anchor':'end'}, g);
      t.textContent = latMajorLabels[i];
      
      
    });
  }
  if (row === 3) {
    lonMajorTicks.forEach((lon, i) => {
      const t = mk('text', {x:X(lon), y:y1+54, 'font-size':34, 'text-anchor':'middle'}, g);
      t.textContent = lonMajorLabels[i];
      
      
    });
  }
});

const cb = document.getElementById('colorbar');
const cbX = 230, cbW = 603 / bandColors.length, cbY = 1003, cbH = 23;
bandColors.forEach((c, i) => {
  const r = mk('rect', {x:cbX + i*cbW, y:cbY, width:cbW, height:cbH, fill:c, stroke:'#000', 'stroke-width':1}, cb);
  
  
});
bandEdges.forEach((v, i) => {
  const t = mk('text', {x:cbX + (i+1)*cbW - (v<0?1:0), y:1055, 'font-size':30.5, 'text-anchor':'middle'}, cb);
  t.textContent = String(v);
  
  
});
</script>
</body>
</html>
